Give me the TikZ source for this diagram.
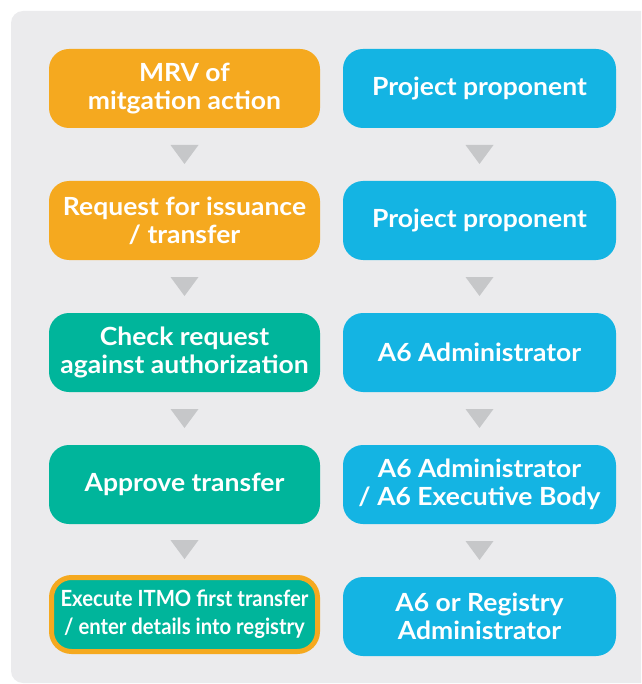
\documentclass[tikz,border=0pt]{standalone}
\usepackage{fontspec}
\setmainfont{Lato}[FakeStretch=1.06]
\newfontfamily\narrowfont[FakeStretch=0.91]{Lato}
\usetikzlibrary{calc}
\definecolor{panelgray}{HTML}{EBEBED}
\definecolor{arrowgray}{HTML}{C6C7C9}
\definecolor{mrvorange}{HTML}{F5A91F}
\definecolor{checkteal}{HTML}{00B59B}
\definecolor{actorblue}{HTML}{14B4E3}
\begin{document}
\begin{tikzpicture}[x=1pt,y=-1pt,
  flowbox/.style={rounded corners=20pt, minimum width=271pt, minimum height=79pt,
    inner sep=0pt, text=white, align=center,
    font=\bfseries\fontsize{25}{28}\selectfont},
  stepbox/.style={flowbox, fill=mrvorange},
  tealbox/.style={flowbox, fill=checkteal},
  rolebox/.style={flowbox, fill=actorblue, minimum width=273pt},
  lastbox/.style={flowbox, fill=checkteal, draw=mrvorange, line width=5pt,
    minimum width=266pt, minimum height=74pt,
    font=\narrowfont\bfseries\fontsize{22.3}{28}\selectfont}]
\useasboundingbox (0,0) rectangle (641,684);
% grey panel behind the two columns
\begin{scope}
  \clip (0,0) rectangle (641,684);
  \fill[panelgray, rounded corners=12pt] (11,11) rectangle (680,683);
\end{scope}

% left column: actions
\node[stepbox] (l1) at (184.5,88.5) {MRV of\\mitgation action};
\node[stepbox] (l2) at (184.5,220.5) {Request for issuance\\/ transfer};
\node[tealbox] (l3) at (184.5,352.5) {Check request\\against authorization};
\node[tealbox] (l4) at (184.5,484.5) {Approve transfer};
\node[lastbox] (l5) at (184.5,614.5) {Execute ITMO first transfer\\/ enter details into registry};

% right column: responsible parties
\node[rolebox] (r1) at (479.5,88.5) {Project proponent};
\node[rolebox] (r2) at (479.5,220.5) {Project proponent};
\node[rolebox] (r3) at (479.5,352.5) {A6 Administrator};
\node[rolebox] (r4) at (479.5,484.5) {A6 Administrator\\/ A6 Executive Body};
\node[rolebox] (r5) at (479.5,616.5) {A6 or Registry\\Administrator};

% downward triangles between consecutive steps
\foreach \a/\b in {l1/l2,l2/l3,l3/l4,l4/l5,r1/r2,r2/r3,r3/r4,r4/r5}{
  \fill[arrowgray] ($(\a.south)!0.5!(\b.north)$) ++(-14,-9.5) -- ++(28,0) -- ++(-14,19) -- cycle;
}
\end{tikzpicture}
\end{document}
